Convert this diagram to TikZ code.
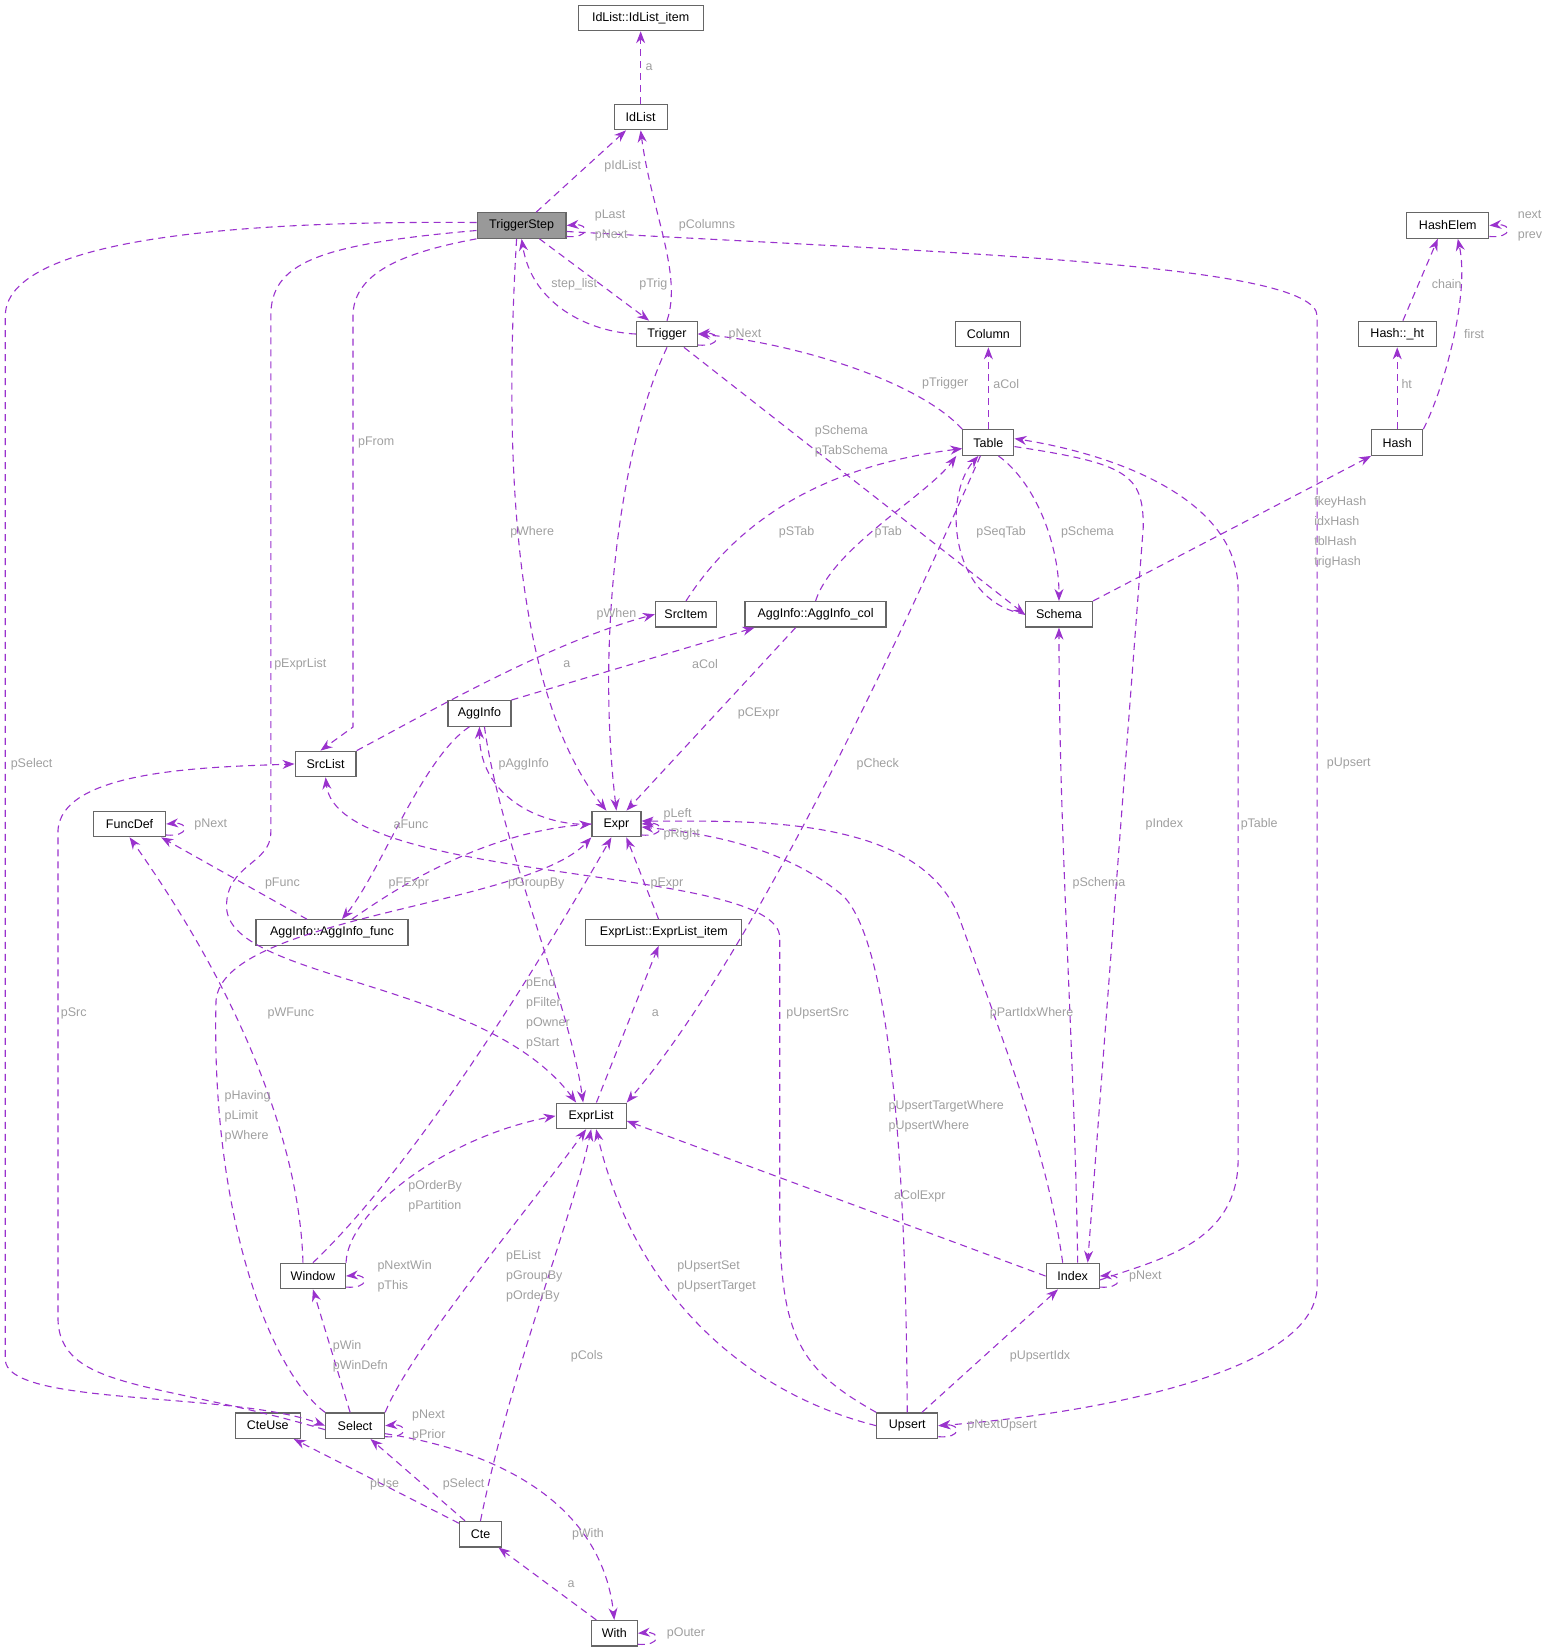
\documentclass[tikz,border=0pt]{standalone}
\usepackage{fontspec}
\setmainfont{Liberation Sans}
\usetikzlibrary{arrows.meta}
\definecolor{ep}{HTML}{9A32CD}
\definecolor{lg}{HTML}{9F9F9F}
\tikzset{
 box/.style={draw=black!60,fill=white,line width=1.2pt,minimum height=25.5pt,inner xsep=4pt,font=\fontsize{12.5}{14}\selectfont},
 edge/.style={draw=ep,line width=1.1pt,dash pattern=on 7pt off 5pt,-{Stealth[length=12pt,width=9pt]}},
 lab/.style={text=lg,font=\fontsize{12.5}{20}\selectfont,align=left,inner sep=0pt}
}
\begin{document}
\begin{tikzpicture}[x=1.054pt,y=-1.054pt]
\useasboundingbox (0,0) rectangle (1470,1564);
\node[box,minimum width=125pt] (IdItem) at (608,17) {IdList::IdList\_item};
\node[box,minimum width=53pt] (IdList) at (608,111) {IdList};
\node[box,minimum width=89pt,fill=black!40] (TS) at (495,214) {TriggerStep};
\node[box,minimum width=82pt] (HashElem) at (1374,214) {HashElem};
\node[box,minimum width=61pt] (Trigger) at (633,317) {Trigger};
\node[box,minimum width=65pt] (Column) at (938,317) {Column};
\node[box,minimum width=78pt] (Ht) at (1326,317) {Hash::\_ht};
\node[box,minimum width=51pt] (Table) at (938,420) {Table};
\node[box,minimum width=51pt] (Hash) at (1326,420) {Hash};
\node[box,minimum width=61pt] (SrcItem) at (651,583) {SrcItem};
\node[box,minimum width=141pt] (ACol) at (774,583) {AggInfo::AggInfo\_col};
\node[box,minimum width=67pt] (Schema) at (1005,583) {Schema};
\node[box,minimum width=63pt] (AggInfo) at (455,677) {AggInfo};
\node[box,minimum width=61pt] (SrcList) at (309,725) {SrcList};
\node[box,minimum width=72pt] (FuncDef) at (123,782) {FuncDef};
\node[box,minimum width=49pt] (Expr) at (585,782) {Expr};
\node[box,minimum width=152pt] (AFunc) at (315,885) {AggInfo::AggInfo\_func};
\node[box,minimum width=156pt] (ELItem) at (630,885) {ExprList::ExprList\_item};
\node[box,minimum width=70pt] (ExprList) at (561,1059) {ExprList};
\node[box,minimum width=65pt] (Window) at (297,1211) {Window};
\node[box,minimum width=53pt] (Index) at (1018,1211) {Index};
\node[box,minimum width=65pt] (CteUse) at (254,1353) {CteUse};
\node[box,minimum width=59pt] (Select) at (337,1353) {Select};
\node[box,minimum width=61pt] (Upsert) at (861,1353) {Upsert};
\node[box,minimum width=42pt] (Cte) at (456,1456) {Cte};
\node[box,minimum width=46pt] (With) at (583,1550) {With};

% self loops
\foreach \n in {TS,HashElem,Trigger,Expr,FuncDef,Window,Index,Select,Upsert,With}{
 \draw[edge] ([yshift=-11pt]\n.east) .. controls +(22,2) and +(22,-2) .. ([yshift=0pt]\n.east);
}

\draw[edge] (IdList) -- (IdItem);
\draw[edge] (TS) -- (IdList);
\draw[edge] (TS) -- (Trigger);
\draw[edge] (Trigger.west) .. controls (560,315) and (505,290) .. (TS.south);
\draw[edge] (Trigger.north) .. controls (648,260) and (618,200) .. (IdList.south);
\draw[edge] (Table.north west) .. controls (870,360) and (750,325) .. (Trigger.east);
\draw[edge] (Table) -- (Column);
\draw[edge] (Trigger) -- (Schema.west);
\draw[edge] (Schema.west) .. controls (900,570) and (895,470) .. ([xshift=-10pt]Table.south);
\draw[edge] ([xshift=10pt]Table.south) .. controls (985,460) and (1005,520) .. (Schema.north);
\draw[edge] (SrcItem.north) .. controls (690,510) and (760,445) .. ([yshift=-6pt]Table.west);
\draw[edge] (ACol.north) .. controls (790,520) and (880,470) .. ([xshift=-6pt]Table.south west);
\draw[edge] (Ht) -- ([xshift=-10pt]HashElem.south);
\draw[edge] (Hash.north east) .. controls (1370,370) and (1395,280) .. ([xshift=10pt]HashElem.south);
\draw[edge] (Hash) -- (Ht);
\draw[edge] (Schema.north east) -- (Hash.south west);
\draw[edge] ([yshift=-6pt]TS.east) .. controls (900,240) and (1250,250) .. (1250,300) -- (1250,1220) .. controls (1250,1310) and (1000,1345) .. (Upsert.east);
\draw[edge] ([yshift=3pt]TS.west) .. controls (300,210) and (5,215) .. (5,300) -- (5,1290) .. controls (5,1335) and (220,1320) .. (Select.west);
\draw[edge] ([yshift=-5pt]TS.west) .. controls (300,232) and (257,250) .. (257,300) -- (257,790) .. controls (257,820) and (215,820) .. (215,860) .. controls (215,930) and (460,930) .. ([xshift=-15pt]ExprList.north);
\draw[edge] (TS.south west) .. controls (380,240) and (335,260) .. (335,300) -- (335,690) -- ([xshift=26pt]SrcList.north west);
\draw[edge] ([xshift=-5pt]TS.south) .. controls (480,400) and (480,650) .. ([xshift=-10pt]Expr.north);
\draw[edge] (Trigger.south) .. controls (590,420) and (565,600) .. (Expr.north);
\draw[edge] (SrcList.north east) .. controls (400,680) and (520,610) .. (SrcItem.west);
\draw[edge] (AggInfo.north east) -- ([xshift=10pt]ACol.south west);
\draw[edge] ([xshift=-20pt]ACol.south) -- ([xshift=10pt]Expr.north);
\draw[edge] (Expr.west) .. controls (520,785) and (455,760) .. (AggInfo.south);
\draw[edge] ([xshift=-10pt]AggInfo.south) .. controls (400,720) and (360,830) .. ([xshift=10pt]AFunc.north);
\draw[edge] ([xshift=-25pt]AFunc.north) -- ([xshift=-5pt]FuncDef.south east);
\draw[edge] ([xshift=20pt]AFunc.north) .. controls (380,840) and (460,790) .. (Expr.west);
\draw[edge] (ELItem) -- ([xshift=10pt]Expr.south);
\draw[edge] (ExprList) -- (ELItem);
\draw[edge] ([xshift=-8pt]Table.south) .. controls (870,570) and (720,900) .. (ExprList.north east);
\draw[edge] (Window.north east) .. controls (330,1150) and (420,1080) .. (ExprList.west);
\draw[edge] (Window.north) .. controls (400,1100) and (520,900) .. ([xshift=-5pt]Expr.south);
\draw[edge] ([xshift=5pt]AggInfo.south) .. controls (475,800) and (540,950) .. ([xshift=-8pt]ExprList.north);
\draw[edge] (Select.north west) .. controls (255,1300) and (200,1150) .. (205,950) .. controls (210,870) and (500,860) .. (Expr.south west);
\draw[edge] ([xshift=-10pt]Window.north) .. controls (285,1100) and (240,960) .. (FuncDef.south);
\draw[edge] ([xshift=-5pt]Select.north) -- (Window.south);
\draw[edge] (Select.north east) .. controls (390,1280) and (500,1150) .. ([xshift=-5pt]ExprList.south);
\draw[edge] ([yshift=-4pt]Select.west) .. controls (150,1310) and (55,1320) .. (55,1250) -- (55,790) .. controls (55,730) and (200,728) .. (SrcList.west);
\draw[edge] ([yshift=-8pt]Select.east) .. controls (460,1375) and (570,1420) .. (With.north);
\draw[edge] (Cte) -- (CteUse);
\draw[edge] (Cte) -- (Select);
\draw[edge] (Cte.north) .. controls (485,1300) and (545,1150) .. (ExprList.south);
\draw[edge] (With) -- (Cte);
\draw[edge] (Upsert.north west) .. controls (760,1300) and (740,1270) .. (740,1150) -- (740,890) .. controls (740,820) and (320,840) .. (SrcList.south);
\draw[edge] (Upsert.north) .. controls (860,1150) and (850,900) .. (800,850) .. controls (740,800) and (660,790) .. ([yshift=-3pt]Expr.east);
\draw[edge] (Upsert.west) .. controls (700,1320) and (600,1220) .. ([xshift=5pt]ExprList.south);
\draw[edge] (Upsert) -- (Index);
\draw[edge] (Index.west) -- ([yshift=-5pt]ExprList.east);
\draw[edge] ([xshift=-10pt]Index.north) .. controls (995,1100) and (960,1010) .. (910,870) .. controls (870,770) and (700,780) .. ([yshift=3pt]Expr.east);
\draw[edge] ([xshift=5pt]Index.north) .. controls (1020,1000) and (1005,800) .. (Schema.south);
\draw[edge] ([yshift=-4pt]Table.east) .. controls (1070,440) and (1085,450) .. (1085,500) -- ([xshift=15pt]Index.north);
\draw[edge] ([yshift=-4pt]Index.east) .. controls (1100,1195) and (1175,1180) .. (1175,1100) -- (1175,560) .. controls (1175,470) and (1050,430) .. ([yshift=4pt]Table.east);

% labels
\node[lab] at (616,64) {a};
\node[lab] at (591,158) {pIdList};
\node[lab] at (580,214) {pLast\\pNext};
\node[lab] at (620,270) {pTrig};
\node[lab] at (545,270) {step\_list};
\node[lab] at (671,214) {pColumns};
\node[lab] at (707,317) {pNext};
\node[lab] at (897,364) {pTrigger};
\node[lab] at (955,364) {aCol};
\node[lab] at (808,419) {pSchema\\pTabSchema};
\node[lab] at (950,505) {pSeqTab};
\node[lab] at (1032,505) {pSchema};
\node[lab] at (843,505) {pTab};
\node[lab] at (756,505) {pSTab};
\node[lab] at (1373,270) {chain};
\node[lab] at (1399,317) {first};
\node[lab] at (1335,364) {ht};
\node[lab] at (1452,214) {next\\prev};
\node[lab] at (1272,505) {fkeyHash\\idxHash\\tblHash\\trigHash};
\node[lab] at (1280,725) {pUpsert};
\node[lab] at (30,725) {pSelect};
\node[lab] at (285,630) {pExprList};
\node[lab] at (357,420) {pFrom};
\node[lab] at (505,505) {pWhere};
\node[lab] at (585,583) {pWhen};
\node[lab] at (538,630) {a};
\node[lab] at (669,630) {aCol};
\node[lab] at (720,677) {pCExpr};
\node[lab] at (497,725) {pAggInfo};
\node[lab] at (647,782) {pLeft\\pRight};
\node[lab] at (390,782) {aFunc};
\node[lab] at (268,838) {pFunc};
\node[lab] at (200,782) {pNext};
\node[lab] at (388,838) {pFExpr};
\node[lab] at (633,838) {pExpr};
\node[lab] at (509,838) {pGroupBy};
\node[lab] at (622,962) {a};
\node[lab] at (833,725) {pCheck};
\node[lab] at (413,1135) {pOrderBy\\pPartition};
\node[lab] at (520,962) {pEnd\\pFilter\\pOwner\\pStart};
\node[lab] at (235,1059) {pHaving\\pLimit\\pWhere};
\node[lab] at (276,962) {pWFunc};
\node[lab] at (384,1211) {pNextWin\\pThis};
\node[lab] at (342,1287) {pWin\\pWinDefn};
\node[lab] at (507,1211) {pEList\\pGroupBy\\pOrderBy};
\node[lab] at (70,962) {pSrc};
\node[lab] at (407,1353) {pNext\\pPrior};
\node[lab] at (558,1456) {pWith};
\node[lab] at (365,1409) {pUse};
\node[lab] at (440,1409) {pSelect};
\node[lab] at (557,1287) {pCols};
\node[lab] at (542,1503) {a};
\node[lab] at (651,1550) {pOuter};
\node[lab] at (776,962) {pUpsertSrc};
\node[lab] at (898,1059) {pUpsertTargetWhere\\pUpsertWhere};
\node[lab] at (680,1211) {pUpsertSet\\pUpsertTarget};
\node[lab] at (987,1287) {pUpsertIdx};
\node[lab] at (951,1353) {pNextUpsert};
\node[lab] at (873,1135) {aColExpr};
\node[lab] at (979,962) {pPartIdxWhere};
\node[lab] at (1043,838) {pSchema};
\node[lab] at (1105,782) {pIndex};
\node[lab] at (1195,782) {pTable};
\node[lab] at (1087,1211) {pNext};
\end{tikzpicture}
\end{document}
